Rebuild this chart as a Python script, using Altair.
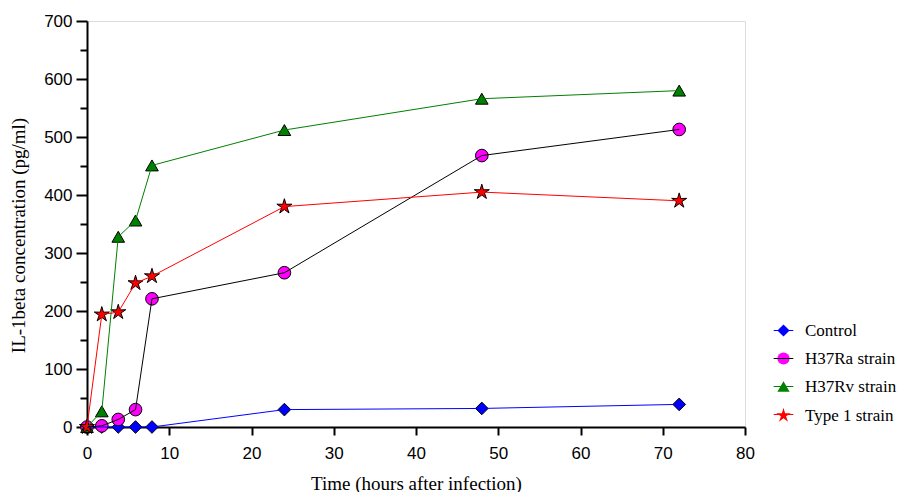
import altair as alt
import pandas as pd

times = [0, 1.8, 3.8, 5.9, 7.9, 24, 48, 72]
series_names = ["Control", "H37Ra strain", "H37Rv strain", "Type 1 strain"]
control = [0, 0, 0, 0, 0, 30, 32, 39]
h37ra = [0, 2, 13, 30, 221, 266, 468, 513]
h37rv = [0, 27, 328, 356, 451, 512, 566, 580]
type1 = [0, 194, 198, 248, 260, 380, 405, 390]

line_colors = ["#0000ff", "#000000", "#008000", "#ff0000"]
fill_colors = ["#0000ff", "#ff00ff", "#008000", "#ff0000"]
star = ("M0,-1.25 L0.26,-0.36 L1.19,-0.386 L0.42,0.14 L0.735,1.011 L0,0.46 "
        "L-0.735,1.011 L-0.42,0.14 L-1.19,-0.386 L-0.26,-0.36 Z")
shapes = ["diamond", "circle", "triangle-up", star]
line_names = [n + " line" for n in series_names]

rows = []
for i, (name, lname, vals) in enumerate(zip(series_names, line_names, [control, h37ra, h37rv, type1])):
    for t, v in zip(times, vals):
        rows.append({"time": t, "value": v, "series": name, "line_series": lname, "order": i})
df = pd.DataFrame(rows)

x = alt.X("time:Q", scale=alt.Scale(domain=[0, 80], nice=False),
          axis=alt.Axis(values=[0, 10, 20, 30, 40, 50, 60, 70, 80], title="Time (hours after infection)",
                        grid=False, domainWidth=2, domainColor="black", tickColor="black",
                        tickSize=8, tickWidth=2, labelFont="Liberation Sans", labelFontSize=17,
                        labelColor="black", labelPadding=10, labelFlush=False,
                        titleFont="Liberation Serif",
                        titleFontSize=19, titleFontWeight="normal", titleColor="black",
                        titlePadding=13))
y = alt.Y("value:Q", scale=alt.Scale(domain=[0, 700], nice=False),
          axis=alt.Axis(values=list(range(0, 701, 50)), title="IL-1beta concentration (pg/ml)",
                        labelExpr="datum.value % 100 === 0 ? datum.label : ''",
                        tickSize={"condition": {"test": "datum.value % 100 === 0", "value": 11}, "value": 7},
                        grid=False, domainWidth=2, domainColor="black", tickColor="black",
                        tickWidth=2, labelFont="Liberation Sans", labelFontSize=17,
                        labelColor="black", labelPadding=4, labelFlush=False,
                        titleFont="Liberation Serif",
                        titleFontSize=19, titleFontWeight="normal", titleColor="black",
                        titlePadding=15, titleY=214))

common = dict(title=None, orient="none", legendX=688, legendY=301,
              labelFont="Liberation Serif", labelFontSize=17, labelLimit=200,
              symbolSize=150, rowPadding=10, labelOffset=13)

leg = alt.Legend(labelColor="black", symbolStrokeColor="black", symbolStrokeWidth=1, **common)
line_leg = alt.Legend(labelColor="black", labelOpacity=0, labelExpr="' '", symbolType="M-1.6,0 L1.6,0",
                      symbolStrokeWidth=1, symbolFillColor="transparent", **common)

points = alt.Chart(df).mark_point(filled=True, opacity=1, stroke="black", strokeWidth=1, size=160).encode(
    x=x, y=y,
    fill=alt.Fill("series:N", scale=alt.Scale(domain=series_names, range=fill_colors), legend=leg),
    shape=alt.Shape("series:N", scale=alt.Scale(domain=series_names, range=shapes), legend=leg),
    order=alt.Order("order:Q"),
)

lines = alt.Chart(df).mark_line(strokeWidth=1).encode(
    x=x, y=y,
    color=alt.Color("line_series:N", scale=alt.Scale(domain=line_names, range=line_colors), legend=line_leg),
    detail="series:N",
)

chart = alt.layer(points, lines).properties(
    width=658, height=406,
    autosize=alt.AutoSizeParams(type="none"),
    padding={"left": 79, "top": 13, "right": 153, "bottom": 65},
).configure_view(stroke="black", strokeWidth=1).configure(background="white")

chart.save("out.html", embed_options={"renderer": "svg", "actions": False})
